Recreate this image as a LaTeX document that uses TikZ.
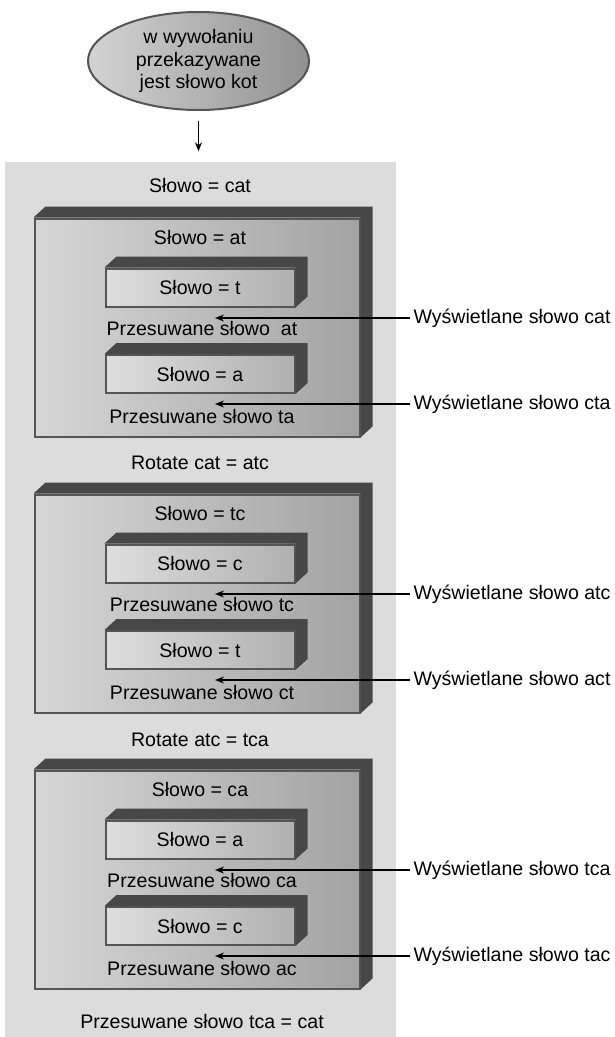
\documentclass[tikz,border=0pt]{standalone}
\usepackage{fontspec}
\setmainfont{Liberation Sans}
\usetikzlibrary{shapes.geometric, arrows.meta, positioning, calc}

\definecolor{panelgray}{HTML}{DCDCDC}
\definecolor{slabdark}{HTML}{474747}
\definecolor{edgegray}{HTML}{555555}

% dark top and right faces of an extruded box
\newcommand{\slabdepth}[1]{%
  \fill[slabdark] (#1.north west) -- ++(12,-11) -- ([shift={(12,-11)}]#1.north east)
    -- ([shift={(12,-11)}]#1.south east) -- (#1.south east) -- (#1.north east) -- cycle;}

\begin{document}
\begin{tikzpicture}[
    x=1pt, y=-1pt,
    every node/.style={font=\fontsize{19.6}{22.5}\selectfont},
    oval/.style={ellipse, draw=edgegray, line width=2pt, left color=black!17, right color=black!43, minimum width=221pt, minimum height=98pt, inner sep=0pt, align=center},
    outerslab/.style={draw=edgegray, line width=2pt, left color=black!16, right color=black!36, minimum width=325pt, minimum height=218pt, inner sep=0pt},
    innerslab/.style={draw=edgegray, line width=2pt, left color=black!13, right color=black!31, minimum width=189pt, minimum height=38pt, inner sep=0pt},
    pointer/.style={-{Stealth[length=9pt, width=7pt]}, line width=1.3pt},
    shown/.style={anchor=west}
]
    \useasboundingbox (0,0) rectangle (615,1037);
    \node[fill=panelgray, minimum width=391pt, minimum height=877pt, inner sep=0pt] (panel) at (200.5, 600) {};

    \node[oval] (call) at (198.5, 61) {w wywołaniu\\ przekazywane\\ jest słowo kot};
    \draw[pointer, shorten <=10pt, shorten >=10pt] (call.south) -- (call.south |- panel.north);

    \node (w0) at (200, 185) {Słowo = cat};

    % first call: at
    \node[outerslab] (box1) at (197, 327.5) {};
    \slabdepth{box1}
    \node (w1) at (200, 237) {Słowo = at};
    \node[innerslab] (box1a) at (200, 287.5) {Słowo = t};
    \slabdepth{box1a}
    \node (p1a) at (202, 328) {Przesuwane słowo\ \ at};
    \node[innerslab] (box1b) at (200, 374) {Słowo = a};
    \slabdepth{box1b}
    \node (p1b) at (202, 416) {Przesuwane słowo ta};

    \node (r1) at (200, 463) {Rotate cat = atc};

    % second call: tc
    \node[outerslab] (box2) at (197, 603.5) {};
    \slabdepth{box2}
    \node (w2) at (200, 513) {Słowo = tc};
    \node[innerslab] (box2a) at (200, 563.5) {Słowo = c};
    \slabdepth{box2a}
    \node (p2a) at (202, 604) {Przesuwane słowo tc};
    \node[innerslab] (box2b) at (200, 650) {Słowo = t};
    \slabdepth{box2b}
    \node (p2b) at (202, 692) {Przesuwane słowo ct};

    \node (r2) at (200, 740) {Rotate atc = tca};

    % third call: ca
    \node[outerslab] (box3) at (197, 879.5) {};
    \slabdepth{box3}
    \node (w3) at (200, 789) {Słowo = ca};
    \node[innerslab] (box3a) at (200, 839.5) {Słowo = a};
    \slabdepth{box3a}
    \node (p3a) at (202, 880) {Przesuwane słowo ca};
    \node[innerslab] (box3b) at (200, 926) {Słowo = c};
    \slabdepth{box3b}
    \node (p3b) at (202, 968) {Przesuwane słowo ac};

    \node (w4) at (202, 1021) {Przesuwane słowo tca = cat};

    % printed words
    \node[shown] (o1) at (410, 318) {Wyświetlane słowo cat};
    \node[shown] (o2) at (410, 404) {Wyświetlane słowo cta};
    \node[shown] (o3) at (410, 594) {Wyświetlane słowo atc};
    \node[shown] (o4) at (410, 680) {Wyświetlane słowo act};
    \node[shown] (o5) at (410, 870) {Wyświetlane słowo tca};
    \node[shown] (o6) at (410, 956) {Wyświetlane słowo tac};
    \coordinate (e1) at (215, 318);
    \coordinate (e2) at (215, 404);
    \coordinate (e3) at (215, 594);
    \coordinate (e4) at (215, 680);
    \coordinate (e5) at (215, 870);
    \coordinate (e6) at (215, 956);
    \draw[pointer] (o1.west) -- (e1);
    \draw[pointer] (o2.west) -- (e2);
    \draw[pointer] (o3.west) -- (e3);
    \draw[pointer] (o4.west) -- (e4);
    \draw[pointer] (o5.west) -- (e5);
    \draw[pointer] (o6.west) -- (e6);
\end{tikzpicture}
\end{document}
